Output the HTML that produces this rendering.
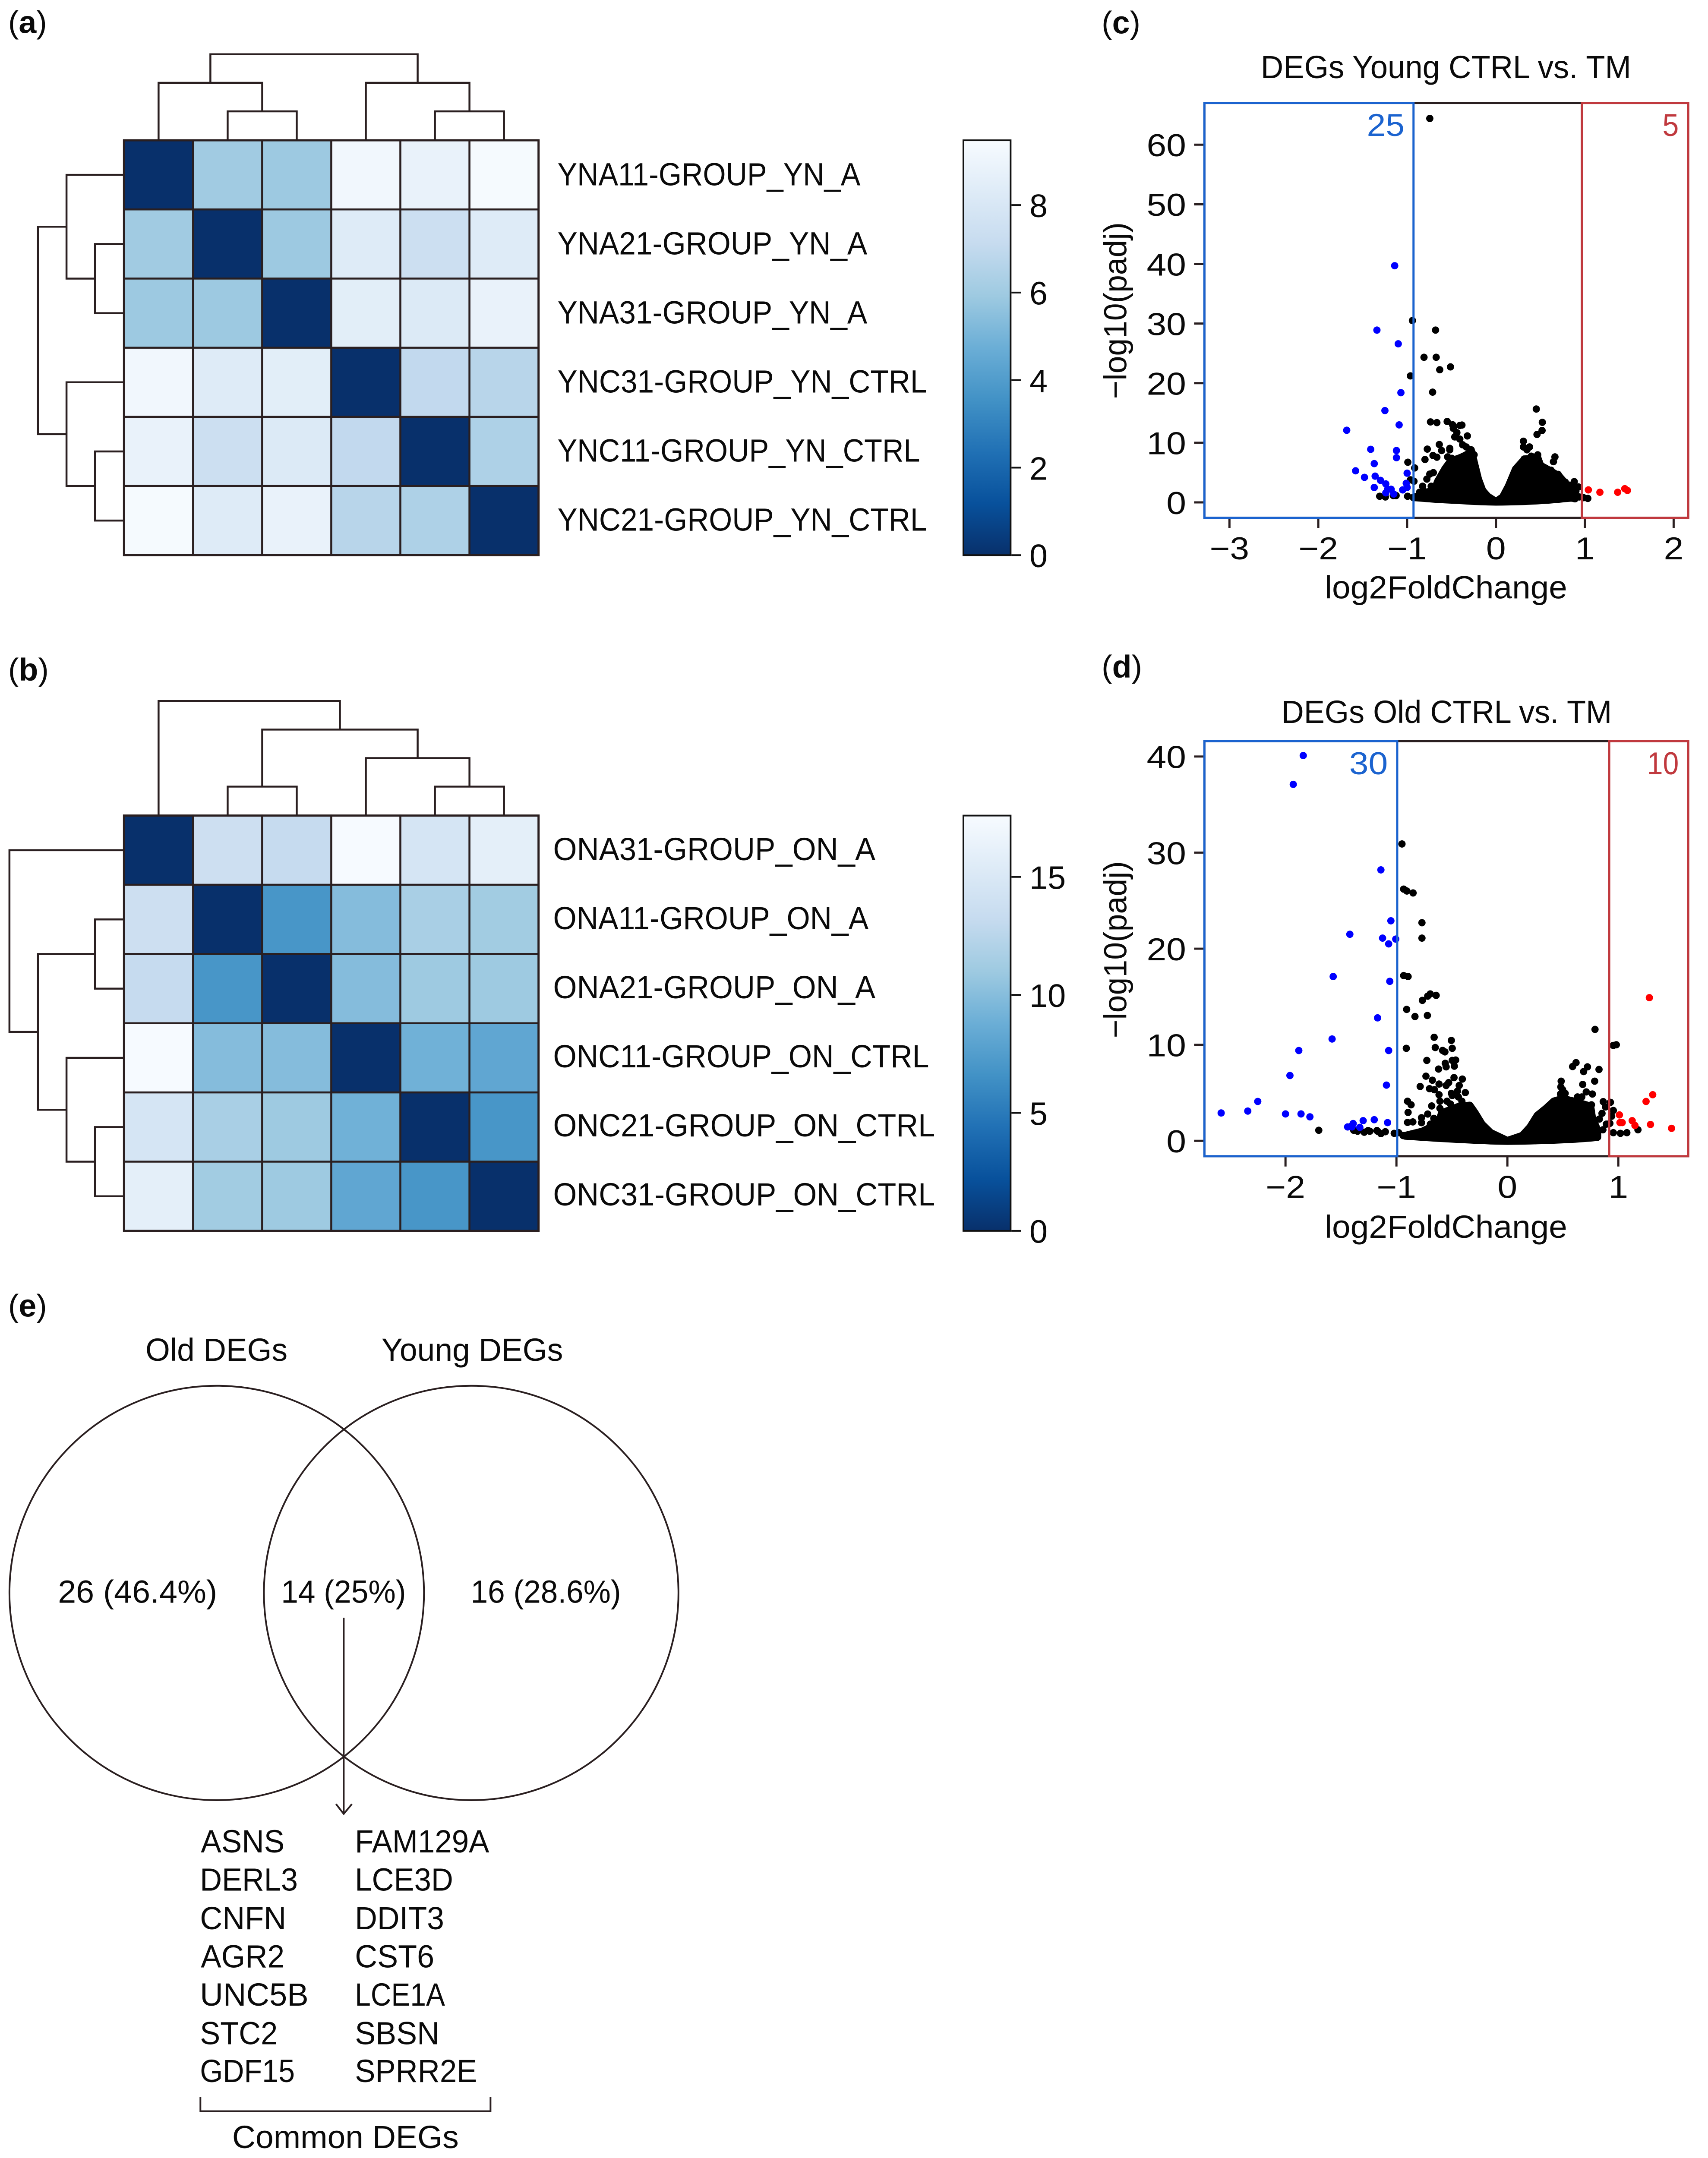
<!DOCTYPE html>
<html lang="en">
<head>
<meta charset="utf-8">
<title>DEG heatmaps, volcano plots and Venn diagram</title>
<style>
html,body{margin:0;padding:0;background:#fff;width:3934px;height:4996px;overflow:hidden;}
svg{display:block;font-family:"Liberation Sans",sans-serif;fill:#0a0a0a;overflow:hidden;}
</style>
</head>
<body>
<svg id="fig" xmlns="http://www.w3.org/2000/svg" width="3934" height="4996" viewBox="0 0 3957 5026" preserveAspectRatio="none">
<defs>
<linearGradient id="blues-r" x1="0" y1="1" x2="0" y2="0"></linearGradient>
</defs>
<rect x="0" y="0" width="3957" height="5026" fill="#fff"/>

<text x="19" y="77" font-size="74">(<tspan font-weight="bold">a</tspan>)</text>
<text x="19" y="1586" font-size="74">(<tspan font-weight="bold">b</tspan>)</text>
<text x="2567" y="78" font-size="74">(<tspan font-weight="bold">c</tspan>)</text>
<text x="2567" y="1579" font-size="74">(<tspan font-weight="bold">d</tspan>)</text>
<text x="19" y="3069" font-size="74">(<tspan font-weight="bold">e</tspan>)</text>

<g id="heatA"></g>
<g id="heatB"></g>

<g font-size="75">
<text x="1299" y="432" textLength="706" lengthAdjust="spacingAndGlyphs">YNA11-GROUP_YN_A</text>
<text x="1299" y="593" textLength="722" lengthAdjust="spacingAndGlyphs">YNA21-GROUP_YN_A</text>
<text x="1299" y="754" textLength="722" lengthAdjust="spacingAndGlyphs">YNA31-GROUP_YN_A</text>
<text x="1299" y="915" textLength="861" lengthAdjust="spacingAndGlyphs">YNC31-GROUP_YN_CTRL</text>
<text x="1299" y="1076" textLength="845" lengthAdjust="spacingAndGlyphs">YNC11-GROUP_YN_CTRL</text>
<text x="1299" y="1237" textLength="861" lengthAdjust="spacingAndGlyphs">YNC21-GROUP_YN_CTRL</text>
</g>
<g font-size="75">
<text x="1289" y="2005" textLength="751" lengthAdjust="spacingAndGlyphs">ONA31-GROUP_ON_A</text>
<text x="1289" y="2166" textLength="735" lengthAdjust="spacingAndGlyphs">ONA11-GROUP_ON_A</text>
<text x="1289" y="2327" textLength="751" lengthAdjust="spacingAndGlyphs">ONA21-GROUP_ON_A</text>
<text x="1289" y="2488" textLength="876" lengthAdjust="spacingAndGlyphs">ONC11-GROUP_ON_CTRL</text>
<text x="1289" y="2649" textLength="890" lengthAdjust="spacingAndGlyphs">ONC21-GROUP_ON_CTRL</text>
<text x="1289" y="2810" textLength="890" lengthAdjust="spacingAndGlyphs">ONC31-GROUP_ON_CTRL</text>
</g>

<g id="volC"></g>
<g id="volD"></g>

<g font-size="75">
<text x="2938" y="182" textLength="863" lengthAdjust="spacingAndGlyphs">DEGs Young CTRL vs. TM</text>
<text x="3087" y="1395" textLength="565" lengthAdjust="spacingAndGlyphs">log2FoldChange</text>
<text transform="translate(2625,930) rotate(-90)" textLength="412" lengthAdjust="spacingAndGlyphs">−log10(padj)</text>
<text x="3185" y="317" font-size="74" style="fill:#1b63cf" textLength="88" lengthAdjust="spacingAndGlyphs">25</text>
<text x="3874" y="317" font-size="74" style="fill:#c0393e" textLength="38" lengthAdjust="spacingAndGlyphs">5</text>
</g>
<g font-size="75">
<text x="2986" y="1685" textLength="770" lengthAdjust="spacingAndGlyphs">DEGs Old CTRL vs. TM</text>
<text x="3087" y="2885" textLength="565" lengthAdjust="spacingAndGlyphs">log2FoldChange</text>
<text transform="translate(2625,2420) rotate(-90)" textLength="413" lengthAdjust="spacingAndGlyphs">−log10(padj)</text>
<text x="3144" y="1805" font-size="74" style="fill:#1b63cf" textLength="90" lengthAdjust="spacingAndGlyphs">30</text>
<text x="3838" y="1805" font-size="74" style="fill:#c0393e" textLength="74" lengthAdjust="spacingAndGlyphs">10</text>
</g>

<g>
<circle cx="505" cy="3713" r="483" fill="none" stroke="#2a1f20" stroke-width="4"/>
<circle cx="1098" cy="3713" r="483" fill="none" stroke="#2a1f20" stroke-width="4"/>
<g font-size="75">
<text x="339" y="3172" textLength="331" lengthAdjust="spacingAndGlyphs">Old DEGs</text>
<text x="889" y="3172" textLength="423" lengthAdjust="spacingAndGlyphs">Young DEGs</text>
<text x="135" y="3736" textLength="371" lengthAdjust="spacingAndGlyphs">26 (46.4%)</text>
<text x="655" y="3736" textLength="291" lengthAdjust="spacingAndGlyphs">14 (25%)</text>
<text x="1097" y="3736" textLength="350" lengthAdjust="spacingAndGlyphs">16 (28.6%)</text>
</g>
<line x1="801" y1="3771" x2="801" y2="4228" stroke="#2a1f20" stroke-width="4"/>
<polyline points="783,4205 801,4228 820,4205" fill="none" stroke="#2a1f20" stroke-width="4"/>
<g font-size="75">
<text x="468" y="4318" textLength="195" lengthAdjust="spacingAndGlyphs">ASNS</text>
<text x="466" y="4407" textLength="228" lengthAdjust="spacingAndGlyphs">DERL3</text>
<text x="466" y="4497" textLength="201" lengthAdjust="spacingAndGlyphs">CNFN</text>
<text x="468" y="4586" textLength="195" lengthAdjust="spacingAndGlyphs">AGR2</text>
<text x="466" y="4675" textLength="253" lengthAdjust="spacingAndGlyphs">UNC5B</text>
<text x="466" y="4765" textLength="181" lengthAdjust="spacingAndGlyphs">STC2</text>
<text x="466" y="4853" textLength="221" lengthAdjust="spacingAndGlyphs">GDF15</text>
<text x="827" y="4318" textLength="313" lengthAdjust="spacingAndGlyphs">FAM129A</text>
<text x="827" y="4407" textLength="229" lengthAdjust="spacingAndGlyphs">LCE3D</text>
<text x="827" y="4497" textLength="208" lengthAdjust="spacingAndGlyphs">DDIT3</text>
<text x="827" y="4586" textLength="185" lengthAdjust="spacingAndGlyphs">CST6</text>
<text x="827" y="4675" textLength="210" lengthAdjust="spacingAndGlyphs">LCE1A</text>
<text x="827" y="4765" textLength="197" lengthAdjust="spacingAndGlyphs">SBSN</text>
<text x="827" y="4853" textLength="285" lengthAdjust="spacingAndGlyphs">SPRR2E</text>
</g>
<polyline points="467,4888 467,4921 1143,4921 1143,4888" fill="none" stroke="#2a1f20" stroke-width="4"/>
<text x="541" y="5007" font-size="75" textLength="528" lengthAdjust="spacingAndGlyphs">Common DEGs</text>
</g>
</svg>

<script>
/* ---------- heatmap data ---------- */
const heatAValues = [
  [0.0,6.0,5.9,9.2,8.8,9.4],
  [6.0,0.0,5.9,8.3,7.4,8.3],
  [5.9,5.9,0.0,8.5,8.2,8.8],
  [9.2,8.3,8.5,0.0,7.0,6.7],
  [8.8,7.4,8.2,7.0,0.0,6.4],
  [9.4,8.3,8.8,6.7,6.4,0.0]
];
const heatBValues = [
  [0.0,13.8,13.2,17.5,14.6,15.9],
  [13.8,0.0,6.9,9.9,11.6,11.2],
  [13.2,6.9,0.0,9.9,11.0,11.0],
  [17.5,9.9,9.9,0.0,9.0,8.2],
  [14.6,11.6,11.0,9.0,0.0,6.9],
  [15.9,11.2,11.0,8.2,6.9,0.0]
];
const heatAMax = 9.48;
const heatBMax = 17.6;
const cbarATicks = [0,2,4,6,8];
const cbarBTicks = [0,5,10,15];
/* merges: leaves are 0-5, each merge creates the next node id */
const dendroAMerges = [[1,2],[4,5],[0,6],[3,7],[8,9]];
const dendroAHeights = [1,1,2,2,3];
const dendroBMerges = [[1,2],[4,5],[3,7],[6,8],[0,9]];
const dendroBHeights = [1,1,2,3,4];
const bluesStops = ['#08306b','#08519c','#2171b5','#4292c6','#6baed6','#9ecae1','#c6dbef','#deebf7','#f7fbff'];

/* ---------- volcano c (young) ---------- */
const cXTicks = [-3,-2,-1,0,1,2];
const cYTicks = [0,10,20,30,40,50,60];
const cThresholds = [-0.928,0.966];
const cBlueX = [-1.14,-1.34,-1.10,-1.07,-1.25,-1.09,-1.68,-1.41,-1.12,-1.12,-1.37,-1.58,-1.48,-1.36,-1.30,-1.24,-1.00,-1.37,-1.18,-1.22,-1.05,-1.00,-1.01,-1.24,-1.15];
const cBlueY = [39.7,28.9,26.6,18.4,15.4,13.0,12.1,8.9,8.7,7.5,6.5,5.3,4.2,4.4,3.7,3.1,4.9,2.5,2.2,2.2,2.1,2.5,3.2,1.6,1.4];
const cRedX = [1.04,1.17,1.37,1.45,1.48];
const cRedY = [2.1,1.7,1.7,2.3,2.0];
const cBlackX = [-0.745,-0.94,-0.68,-0.81,-0.673,-0.512,-0.633,-0.963,-0.713,
  -0.737,-0.665,-0.549,-0.488,-0.383,-0.407,-0.48,-0.44,-0.464,-0.322,-0.407,-0.375,-0.335,-0.279,-0.246,
  -0.638,-0.773,-0.52,-0.52,-0.612,-0.709,-0.665,-0.799,-0.544,-0.383,-0.496,
  -0.705,-0.745,-0.778,-0.826,-0.729,-0.915,-0.992,-0.963,-0.923,-0.995,-1.309,-1.245,-1.156,-1.124,-0.609,-0.568,-0.625,
  0.454,0.522,0.519,0.462,0.309,0.309,0.378,0.349,0.317,0.47,0.398,0.462,0.664,0.647,0.591,0.707,0.76,0.68,0.881,0.857,0.929,0.937,0.986,1.034,0.535,
  -0.60,-0.66,-0.72,-0.80,-0.86,0.62,0.70,0.78,0.82,0.90];
const cBlackY = [64.4,30.5,28.9,24.34,24.34,22.73,22.25,21.22,18.49,
  13.5,13.38,13.57,13.02,12.97,12.9,12.42,11.7,10.98,11.15,10.62,9.66,9.3,8.82,7.98,
  9.71,8.94,9.06,8.82,8.7,7.87,7.58,7.19,7.63,7.63,7.39,
  4.99,4.75,3.91,2.71,2.71,5.78,6.74,3.79,3.55,1.03,1.03,0.91,1.15,1.15,4.75,5.35,2.95,
  15.66,13.43,12.06,11.39,10.26,9.3,9.3,8.82,7.27,7.98,7.75,7.03,7.63,6.83,5.23,4.51,3.24,3.55,3.48,2.59,2.59,0.91,0.79,0.67,4.87,
  3.9,2.6,2.0,1.8,1.7,5.4,4.7,3.4,2.9,1.9];
/* saturated dot mass: outline of the overlapping points */
const cMassX = [-0.93,-0.899,-0.689,-0.657,-0.576,-0.512,-0.383,-0.271,-0.246,-0.198,-0.15,-0.093,0,0.076,0.14,0.221,0.293,0.325,0.47,0.502,0.599,0.712,0.776,0.857,0.889];
const cMassTop = [0.85,0.95,2.2,3.5,5.6,6.9,7.6,8.47,6.79,3.91,1.99,1.03,0.12,0.91,2.71,5.59,6.79,7.27,7.5,6.2,5.4,4.4,3.3,1.8,0.8];
const cMassBottom = [0.8,0.79,0.55,0.52,0.45,0.4,0.3,0.2,0.18,0.15,0.12,0.1,0.07,0.08,0.1,0.12,0.15,0.17,0.28,0.31,0.4,0.55,0.65,0.75,0.6];

/* ---------- volcano d (old) ---------- */
const dXTicks = [-2,-1,0,1];
const dYTicks = [0,10,20,30,40];
const dThresholds = [-0.993,0.918];
const dBlueX = [-1.84,-1.93,-1.14,-1.05,-1.42,-1.125,-1.006,-1.07,-1.57,-1.06,-1.17,-1.58,-1.88,-1.07,-1.96,-1.09,-2.25,-2.34,-2.58,-2.0,-1.86,-1.78,-1.2,-1.30,-1.39,-1.08,-1.44,-1.40,-1.33,-1.40];
const dBlueY = [40.1,37.1,28.2,22.9,21.5,21.1,21.0,20.5,17.1,16.6,12.8,10.6,9.4,9.4,6.8,5.8,4.1,3.1,2.9,2.8,2.8,2.5,2.2,2.1,1.8,1.9,1.45,1.45,1.4,1.6];
const dRedX = [1.28,1.31,1.25,1.01,1.125,1.015,1.035,1.15,1.29,1.48];
const dRedY = [14.9,4.8,4.1,2.7,2.1,1.9,1.9,1.6,1.7,1.3];
const dBlackX = [-0.95,-0.935,-0.906,-0.85,-0.77,-0.77,-0.935,-0.895,
  -0.908,-0.833,-0.721,-0.766,-0.718,-0.695,-0.642,-0.66,-0.505,-0.65,-0.497,-0.584,-0.563,-0.911,-0.726,-0.56,-0.497,-0.466,-0.478,-0.552,-0.62,
  -0.734,-0.676,-0.481,-0.406,-0.616,-0.786,-0.529,-0.552,-0.702,-0.658,-0.434,-0.616,-0.505,-0.379,-0.45,-0.442,-0.608,-0.41,-0.9,-0.868,-0.682,
  -0.895,-0.608,-0.544,-0.718,-0.774,-0.774,-0.663,-0.9,-0.852,-0.694,-0.592,-0.513,-0.481,-0.497,-0.544,
  0.79,0.955,0.982,0.619,0.588,0.722,0.687,0.826,0.787,0.679,0.485,0.482,0.498,0.521,0.479,0.711,0.766,0.632,0.671,0.45,0.864,0.929,0.885,0.758,0.955,0.853,0.94,0.829,0.924,0.734,0.75,0.892,0.766,0.861,0.955,1.019,1.077,1.177,
  -1.70,-1.385,-1.35,-1.29,-1.24,-1.17,-1.14,-1.10,-1.02,-0.98,-0.94,-1.255,-1.176];
const dBlackY = [30.9,26.2,26.0,25.8,22.7,21.1,17.2,17.1,
  13.68,12.94,13.05,14.62,15.06,15.29,15.14,10.78,10.45,9.71,9.63,9.41,9.26,9.63,8.37,8.07,8.37,8.41,7.77,7.7,7.47,
  6.73,6.31,6.58,6.43,5.91,5.66,6.06,5.76,5.43,5.32,5.76,4.8,4.94,5.02,5.17,4.57,4.12,4.12,4.12,3.75,3.63,
  2.96,3.38,2.94,2.79,2.41,1.89,2.34,1.92,1.97,1.74,2.34,3.83,2.94,4.72,4.12,
  11.6,9.93,10.0,8.14,7.73,7.7,7.21,7.43,6.21,5.87,6.21,5.61,5.32,4.94,4.87,5.09,4.87,4.57,4.57,4.2,4.08,4.01,3.53,3.75,3.16,2.86,2.56,2.27,1.82,2.19,1.6,1.74,1.15,1.15,0.85,0.78,0.85,1.15,
  1.1,1.1,1.0,0.9,1.0,1.0,0.75,0.95,0.78,0.85,0.55,1.07,1.07];
const dMassX = [-0.923,-0.766,-0.624,-0.592,-0.434,-0.339,-0.292,-0.229,-0.15,0,0.134,0.205,0.269,0.356,0.419,0.498,0.608,0.75,0.766,0.813];
const dMassTop = [0.55,1.0,1.8,2.9,3.6,3.7,2.93,1.74,0.85,0.03,0.55,1.45,2.64,3.46,4.13,4.4,4.1,3.6,2.4,1.1];
const dMassBottom = [0.5,0.38,0.27,0.25,0.15,0.1,0.07,0.05,0,-0.04,-0.02,0,0.02,0.05,0.08,0.12,0.18,0.3,0.32,0.38];

/* ---------- helpers ---------- */
const NS = 'http://www.w3.org/2000/svg';
const INK = '#2a1f20';
function mk(parent, tag, attrs) {
  const e = document.createElementNS(NS, tag);
  for (const k in attrs) e.setAttribute(k, attrs[k]);
  parent.appendChild(e);
  return e;
}
function hexRgb(h) { return [1,3,5].map(i => parseInt(h.substr(i,2),16)); }
function blues(t) {
  const p = Math.max(0, Math.min(1, t)) * (bluesStops.length - 1);
  const i = Math.min(Math.floor(p), bluesStops.length - 2);
  const a = hexRgb(bluesStops[i]), b = hexRgb(bluesStops[i+1]), f = p - i;
  return 'rgb(' + a.map((v,j) => Math.round(v + (b[j]-v)*f)).join(',') + ')';
}
bluesStops.forEach((c,i) => {
  const st = mk(document.getElementById('blues-r'), 'stop', {offset: i/(bluesStops.length-1), 'stop-color': c});
  
  
});

function drawDendro(parent, merges, heights, orient, cfg) {
  const pos = [0,1,2,3,4,5].map(i => cfg.start + cfg.band*(i+0.5));
  const hgt = [0,0,0,0,0,0];
  merges.forEach((m, i) => {
    const a = m[0], b = m[1], h = heights[i];
    const v = n => cfg.base - hgt[n]*cfg.unit;
    const t = cfg.base - h*cfg.unit;
    const pts = orient === 'top'
      ? [[pos[a],v(a)],[pos[a],t],[pos[b],t],[pos[b],v(b)]]
      : [[v(a),pos[a]],[t,pos[a]],[t,pos[b]],[v(b),pos[b]]];
    const l = mk(parent, 'polyline', {points: pts.map(p => p.join(',')).join(' '), fill: 'none', stroke: INK, 'stroke-width': 4.5});
    
    
    pos.push((pos[a]+pos[b])/2);
    hgt.push(h);
  });
}

function drawHeat(id, vals, vmax, ticks, geo) {
  const g = document.getElementById(id);
  const n = vals.length;
  const cw = (geo.x1-geo.x0)/n, ch = (geo.y1-geo.y0)/n;
  vals.forEach((row, r) => row.forEach((v, c) => {
    const cell = mk(g, 'rect', {x: geo.x0+c*cw, y: geo.y0+r*ch, width: cw, height: ch, fill: blues(v/vmax), stroke: INK, 'stroke-width': 4.5});
    
    
  }));
  const frame = mk(g, 'rect', {x: geo.x0, y: geo.y0, width: geo.x1-geo.x0, height: geo.y1-geo.y0, fill: 'none', stroke: INK, 'stroke-width': 5});
  
  
  drawDendro(g, geo.merges, geo.heights, 'top', {start: geo.x0, band: cw, base: geo.y0-1, unit: 66.5});
  drawDendro(g, geo.merges, geo.heights, 'left', {start: geo.y0, band: ch, base: geo.x0-1, unit: 66.5});
  const bar = mk(g, 'rect', {x: 2245, y: geo.y0, width: 110, height: geo.y1-geo.y0, fill: 'url(#blues-r)', stroke: '#111', 'stroke-width': 4});
  
  
  const yb = v => geo.y1 - v/vmax*(geo.y1-geo.y0);
  ticks.forEach(t => {
    const tk = mk(g, 'line', {x1: 2357, x2: 2379, y1: yb(t), y2: yb(t), stroke: '#111', 'stroke-width': 4});
    
    
    const lb = mk(g, 'text', {x: 2399, y: yb(t)+28, 'font-size': 76});
    lb.textContent = String(t);
    
    
  });
}

function drawVolcano(id, o) {
  const g = document.getElementById(id);
  const L = 2806.6, R = 3934;
  const sx = x => L + (x-o.xlim[0])/(o.xlim[1]-o.xlim[0])*(R-L);
  const sy = y => o.bottom - (y-o.ylim[0])/(o.ylim[1]-o.ylim[0])*(o.bottom-o.top);
  o.xticks.forEach(t => {
    const tk = mk(g, 'line', {x1: sx(t), x2: sx(t), y1: o.bottom, y2: o.bottom+24, stroke: INK, 'stroke-width': 5});
    
    
    const s = t < 0 ? '\u2212' + (-t) : String(t);
    const lb = mk(g, 'text', {x: sx(t), y: o.bottom+97, 'font-size': 74, 'text-anchor': 'middle', textLength: s.length*46, lengthAdjust: 'spacingAndGlyphs'});
    lb.textContent = s;
    
    
  });
  o.yticks.forEach(t => {
    const tk = mk(g, 'line', {x1: L-24, x2: L, y1: sy(t), y2: sy(t), stroke: INK, 'stroke-width': 5});
    
    
    const s = String(t);
    const lb = mk(g, 'text', {x: 2764, y: sy(t)+27, 'font-size': 74, 'text-anchor': 'end', textLength: s.length*46, lengthAdjust: 'spacingAndGlyphs'});
    lb.textContent = s;
    
    
  });
  const outline = o.massX.map((x,i) => sx(x)+','+sy(o.massTop[i]))
    .concat(o.massX.map((x,i) => sx(x)+','+sy(o.massBottom[i])).reverse()).join(' ');
  const mass = mk(g, 'polygon', {points: outline, fill: '#000', stroke: '#000', 'stroke-width': 17, 'stroke-linejoin': 'round'});
  
  
  o.blackX.forEach((x,i) => {
    const c = mk(g, 'circle', {cx: sx(x), cy: sy(o.blackY[i]), r: 8.5, fill: '#000'});
    
    
  });
  o.blueX.forEach((x,i) => {
    const c = mk(g, 'circle', {cx: sx(x), cy: sy(o.blueY[i]), r: 8.5, fill: '#0000ff'});
    
    
  });
  o.redX.forEach((x,i) => {
    const c = mk(g, 'circle', {cx: sx(x), cy: sy(o.redY[i]), r: 8.5, fill: '#ff0000'});
    
    
  });
  const frame = mk(g, 'rect', {x: L, y: o.top, width: R-L, height: o.bottom-o.top, fill: 'none', stroke: INK, 'stroke-width': 5});
  
  
  const bx = sx(o.thresholds[0]), rx = sx(o.thresholds[1]);
  const down = mk(g, 'rect', {x: L, y: o.top, width: bx-L, height: o.bottom-o.top, fill: 'none', stroke: '#1b63cf', 'stroke-width': 5});
  
  
  const up = mk(g, 'rect', {x: rx, y: o.top, width: R-rx, height: o.bottom-o.top, fill: 'none', stroke: '#c0393e', 'stroke-width': 5});
  
  
}

drawHeat('heatA', heatAValues, heatAMax, cbarATicks, {x0: 289, x1: 1255, y0: 327, y1: 1294, merges: dendroAMerges, heights: dendroAHeights});
drawHeat('heatB', heatBValues, heatBMax, cbarBTicks, {x0: 289, x1: 1255, y0: 1901, y1: 2869, merges: dendroBMerges, heights: dendroBHeights});

drawVolcano('volC', {xlim: [-3.282,2.164], ylim: [-2.59,67], top: 240, bottom: 1207,
  xticks: cXTicks, yticks: cYTicks, thresholds: cThresholds,
  blueX: cBlueX, blueY: cBlueY, redX: cRedX, redY: cRedY, blackX: cBlackX, blackY: cBlackY,
  massX: cMassX, massTop: cMassTop, massBottom: cMassBottom});
drawVolcano('volD', {xlim: [-2.731,1.63], ylim: [-1.6,41.6], top: 1727.5, bottom: 2695,
  xticks: dXTicks, yticks: dYTicks, thresholds: dThresholds,
  blueX: dBlueX, blueY: dBlueY, redX: dRedX, redY: dRedY, blackX: dBlackX, blackY: dBlackY,
  massX: dMassX, massTop: dMassTop, massBottom: dMassBottom});
</script>
</body>
</html>
